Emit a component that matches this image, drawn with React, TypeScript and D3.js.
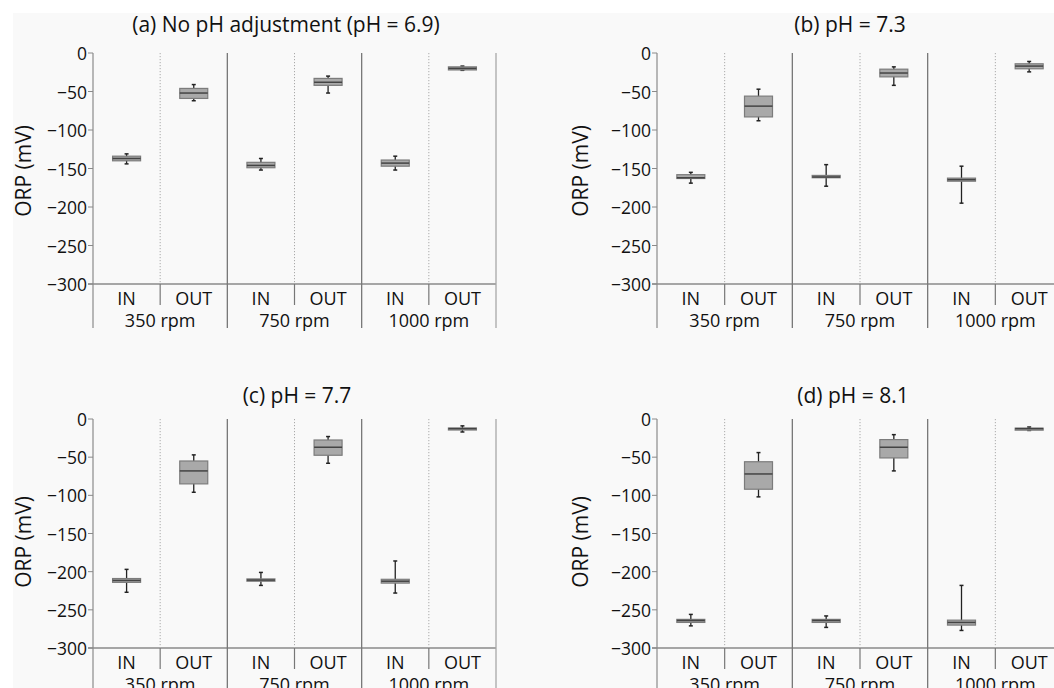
import React from "react";
import * as d3 from "d3";

// ---- data ----
const groups = ["350 rpm", "750 rpm", "1000 rpm"];
const positions = ["IN", "OUT"];
const yTicks = [0, -50, -100, -150, -200, -250, -300];
const titles = [
  "(a) No pH adjustment (pH = 6.9)",
  "(b) pH = 7.3",
  "(c) pH = 7.7",
  "(d) pH = 8.1",
];
// each box: [whiskerLow, q1, median, q3, whiskerHigh], order: 350 IN, 350 OUT, 750 IN, 750 OUT, 1000 IN, 1000 OUT
const boxesA = [
  [-144, -140, -137, -134, -131],
  [-62, -59, -52, -46, -41],
  [-152, -149, -146, -142, -137],
  [-52, -42, -38, -33, -30],
  [-152, -147, -143, -139, -134],
  [-22.5, -22, -20, -18, -17],
];
const boxesB = [
  [-169, -163, -162, -158, -155],
  [-88, -83, -69, -56, -47],
  [-173, -162, -161, -159, -145],
  [-42, -31, -26, -21, -18],
  [-195, -166.5, -164.5, -162.5, -147],
  [-24.5, -20.5, -17, -14, -11],
];
const boxesC = [
  [-227, -214, -211.5, -209, -197],
  [-96, -85, -68, -55, -47],
  [-218, -212.5, -211, -209.5, -201],
  [-58, -47.5, -37, -27.5, -23],
  [-228, -215, -212.5, -210, -186],
  [-17, -13.5, -12.6, -11.8, -9],
];
const boxesD = [
  [-271, -266.5, -264, -262.5, -256],
  [-102, -92, -72, -56, -44],
  [-273, -266.5, -264, -262.5, -258],
  [-68, -51, -37, -27, -20.5],
  [-277, -270, -266.5, -263.5, -218],
  [-15, -13.5, -12.6, -12, -10.5],
];
const allBoxes = [boxesA, boxesB, boxesC, boxesD];

// ---- layout ----
const W = 1054;
const H = 688;
const panelLayout = [
  { x0: 93, x1: 496, yTop: 53, yBot: 284, titleX: 286, titleY: 32, labX: 23, labY: 171 },
  { x0: 657, x1: 1063, yTop: 53, yBot: 284, titleX: 850, titleY: 32, labX: 580, labY: 171 },
  { x0: 93, x1: 496, yTop: 419, yBot: 648, titleX: 297, titleY: 403, labX: 23, labY: 542 },
  { x0: 657, x1: 1063, yTop: 419, yBot: 648, titleX: 853, titleY: 403, labX: 580, labY: 542 },
];
const FONT = "'Open Sans', sans-serif";

function Panel({ idx }: { idx: number }) {
  const L = panelLayout[idx];
  const data = allBoxes[idx];
  const y = d3.scaleLinear().domain([-300, 0]).range([L.yBot, L.yTop]);
  const gx = d3.scaleBand().domain(groups).range([L.x0, L.x1]);
  const px = d3.scaleBand().domain(positions).range([0, gx.bandwidth()]);
  const boxW = 28;
  const cap = 2;
  const below1 = L.yBot + 21;
  const below2 = L.yBot + 44;
  return (
    <g>
      <text x={L.titleX} y={L.titleY} textAnchor="middle" fontSize={21} fill="#111" fontFamily={FONT}>
        {titles[idx]}
      </text>
      <text
        transform={`translate(${L.labX},${L.labY}) rotate(-90)`}
        textAnchor="middle"
        dominantBaseline="central"
        fontSize={21}
        fill="#111"
        fontFamily={FONT}
      >
        ORP (mV)
      </text>
      {/* y axis */}
      <line x1={L.x0} x2={L.x0} y1={L.yTop} y2={below2} stroke="#8a8a8a" strokeWidth={1.2} />
      {yTicks.map((t) => (
        <g key={t}>
          <line x1={L.x0 - 5} x2={L.x0} y1={y(t)} y2={y(t)} stroke="#8a8a8a" strokeWidth={1} />
          <text
            x={L.x0 - 6}
            y={y(t)}
            textAnchor="end"
            dominantBaseline="central"
            fontSize={17.5}
            fill="#111"
            fontFamily={FONT}
          >
            {t === 0 ? "0" : "\u2212" + Math.abs(t)}
          </text>
        </g>
      ))}
      {/* x axis line */}
      <line x1={L.x0 - 5} x2={L.x1} y1={L.yBot} y2={L.yBot} stroke="#8a8a8a" strokeWidth={1.5} />
      {groups.map((g, gi) => {
        const gs = gx(g)!;
        const ge = gs + gx.bandwidth();
        const mid = gs + px("OUT")!;
        return (
          <g key={g}>
            <line x1={ge} x2={ge} y1={L.yTop} y2={below2} stroke={gi === 2 ? "#a8a8a8" : "#777"} strokeWidth={1.3} />
            <line x1={mid} x2={mid} y1={L.yTop} y2={L.yBot} stroke="#aaa" strokeWidth={1} strokeDasharray="1.2,1.8" />
            <line x1={mid} x2={mid} y1={L.yBot} y2={below1} stroke="#777" strokeWidth={1.2} />
            <text x={(gs + ge) / 2} y={below2 - 1} textAnchor="middle" fontSize={18} fill="#111" fontFamily={FONT}>
              {g}
            </text>
            {positions.map((p, pi) => {
              const cx = gs + px(p)! + px.bandwidth() / 2;
              const b = data[gi * 2 + pi];
              return (
                <g key={p}>
                  <text x={cx} y={below1} textAnchor="middle" fontSize={18} fill="#111" fontFamily={FONT}>
                    {p}
                  </text>
                  <line x1={cx} x2={cx} y1={y(b[0])} y2={y(b[4])} stroke="#222" strokeWidth={1.3} />
                  <line x1={cx - cap} x2={cx + cap} y1={y(b[0])} y2={y(b[0])} stroke="#222" strokeWidth={1.5} />
                  <line x1={cx - cap} x2={cx + cap} y1={y(b[4])} y2={y(b[4])} stroke="#222" strokeWidth={1.5} />
                  <rect
                    x={cx - boxW / 2}
                    y={y(b[3])}
                    width={boxW}
                    height={Math.max(2, y(b[1]) - y(b[3]))}
                    fill="#a9a9a9"
                    stroke="#7c7c7c"
                    strokeWidth={1.2}
                  />
                  <line x1={cx - boxW / 2} x2={cx + boxW / 2} y1={y(b[2])} y2={y(b[2])} stroke="#444" strokeWidth={1.5} />
                </g>
              );
            })}
          </g>
        );
      })}
    </g>
  );
}

export default function App() {
  return (
    <svg
      width={W}
      height={H}
      style={{ position: "absolute", left: 0, top: 0, display: "block" }}
      xmlns="http://www.w3.org/2000/svg"
    >
      <rect x={0} y={0} width={W} height={H} fill="#ffffff" />
      <rect x={13} y={13} width={W - 13} height={H - 13} fill="#f9f9f9" />
      {[0, 1, 2, 3].map((i) => (
        <Panel key={i} idx={i} />
      ))}
    </svg>
  );
}
